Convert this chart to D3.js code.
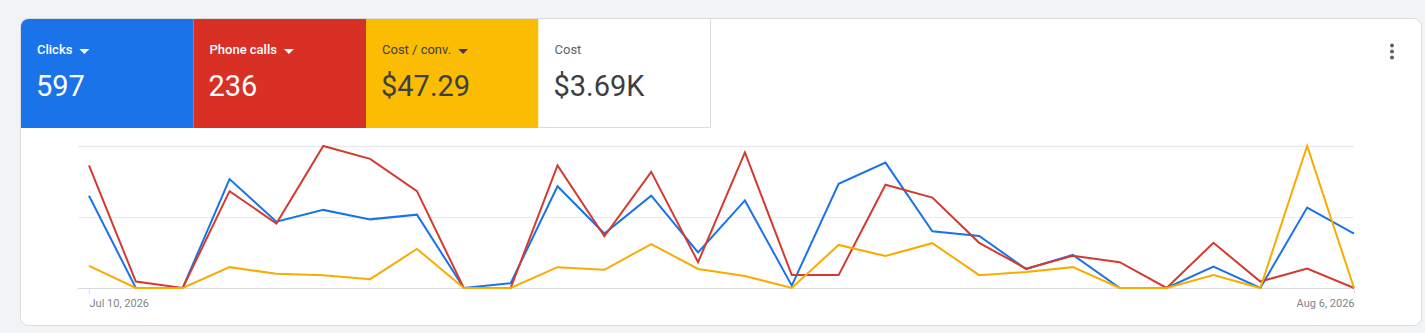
<!DOCTYPE html>
<html>
<head>
<meta charset="utf-8">
<script src="https://cdn.jsdelivr.net/npm/d3@7"></script>
<style>
  html, body { margin: 0; padding: 0; background: #f1f3f4; }
  svg { display: block; font-family: Roboto, "Noto Sans", sans-serif; }
</style>
</head>
<body>
<svg id="chart" width="1425" height="333"></svg>
<script>
// ---- data ----
const startDate = "2026-07-10";
const endDate = "2026-08-06";
const clicks = [39, 0, 0, 46, 28, 33, 29, 31, 0, 2, 43, 23, 39, 15, 37, 1, 44, 53, 24, 22, 8, 14, 0, 0, 9, 0, 34, 23];
const phoneCalls = [19, 1, 0, 15, 10, 22, 20, 15, 0, 0, 19, 8, 18, 4, 21, 2, 2, 16, 14, 7, 3, 5, 4, 0, 7, 1, 3, 0];
const costPerConv = [50, 0, 0, 47, 32, 29, 20, 88, 0, 0, 47, 41, 99, 43, 27, 0, 97, 72, 101, 29, 36, 47, 0, 0, 29, 0, 320, 0];
const axisMax = { clicks: 60, phoneCalls: 22, costPerConv: 320 };
const gridValues = [0, 30, 60]; // on the clicks scale
const scorecardLabels = ["Clicks", "Phone calls", "Cost / conv.", "Cost"];
const scorecardValues = ["597", "236", "$47.29", "$3.69K"];
const scorecardDropdown = [true, true, true, false];

const parse = d3.timeParse("%Y-%m-%d");
const dates = d3.timeDay.range(parse(startDate), d3.timeDay.offset(parse(endDate), 1));

const svg = d3.select("#chart");

// card
svg.append("rect").attr("x", 20.5).attr("y", 18.5).attr("width", 1401).attr("height", 307)
  .attr("rx", 8).attr("fill", "#fff").attr("stroke", "#dadce0");

// scorecards
const tileColors = ["#1a73e8", "#d93025", "#fbbc04", "#ffffff"];
const labelColors = ["#ffffff", "#ffffff", "#3c4043", "#5f6368"];
const valueColors = ["#ffffff", "#ffffff", "#3c4043", "#3c4043"];
const tileX = d3.scaleBand().domain(d3.range(4)).range([21, 711]);
const clipDefs = svg.append("defs");
clipDefs.append("clipPath").attr("id", "cardClip")
  .append("rect").attr("x", 21).attr("y", 19).attr("width", 1400).attr("height", 306).attr("rx", 7.5);

const tiles = svg.append("g").attr("clip-path", "url(#cardClip)");
scorecardLabels.forEach((lab, i) => {
  const x = tileX(i), w = tileX.bandwidth();
  const g = tiles.append("g");
  g.append("rect").attr("x", x).attr("y", 19).attr("width", w).attr("height", 109).attr("fill", tileColors[i]);
  if (i === 3) {
    g.append("path").attr("d", `M${x + w - 0.5},19 V127.5 H${x}`).attr("fill", "none").attr("stroke", "#dadce0");
  }
  const t = g.append("text").attr("x", x + 16).attr("y", 54).attr("font-size", 13)
    .attr("font-weight", i < 2 ? 500 : 400).attr("fill", labelColors[i]).text(lab);
  if (scorecardDropdown[i]) {
    const tw = t.node().getComputedTextLength();
    const ax = x + 16 + tw + 7;
    g.append("path").attr("d", `M${ax},49 L${ax + 10},49 L${ax + 5},54 Z`).attr("fill", labelColors[i]);
  }
  g.append("text").attr("x", x + 15).attr("y", 96).attr("font-size", 29)
    .attr("fill", valueColors[i]).text(scorecardValues[i]);
});

// kebab menu
[45.5, 51.5, 57.5].forEach(cy => {
  svg.append("circle").attr("cx", 1392).attr("cy", cy).attr("r", 2).attr("fill", "#5f6368");
});

// chart scales
const x = d3.scaleTime().domain([dates[0], dates[dates.length - 1]]).range([89, 1354]);
const yTop = 146, yBottom = 288;
const yClicks = d3.scaleLinear().domain([0, axisMax.clicks]).range([yBottom, yTop]);
const yCalls = d3.scaleLinear().domain([0, axisMax.phoneCalls]).range([yBottom, yTop]);
const yCost = d3.scaleLinear().domain([0, axisMax.costPerConv]).range([yBottom, yTop]);

// gridlines
const grid = svg.append("g");
gridValues.forEach(v => {
  grid.append("line").attr("x1", 78).attr("x2", 1354)
    .attr("y1", Math.round(yClicks(v)) + 0.5).attr("y2", Math.round(yClicks(v)) + 0.5)
    .attr("stroke", v === 0 ? "#dadce0" : "#e8eaed").attr("stroke-width", v === axisMax.clicks ? 1.5 : 1);
});

// x axis
const axis = d3.axisBottom(x).tickValues([dates[0], dates[dates.length - 1]])
  .tickFormat(d3.timeFormat("%b %-d, %Y")).tickSize(5).tickPadding(6);
const ax = svg.append("g").attr("transform", `translate(0,${yBottom + 0.5})`).call(axis);
ax.select(".domain").remove();
ax.selectAll(".tick line").attr("stroke", "#dadce0");
ax.selectAll(".tick text").attr("fill", "#80868b").attr("font-size", 11)
  .attr("font-family", "Roboto, sans-serif")
  .attr("text-anchor", (d, i) => i === 0 ? "start" : "end");

// lines
const series = [
  { values: clicks, y: yClicks, color: "#1a73e8" },
  { values: phoneCalls, y: yCalls, color: "#d33b30" },
  { values: costPerConv, y: yCost, color: "#f9ab00" }
];
series.forEach(s => {
  const line = d3.line().x((d, i) => x(dates[i])).y(d => s.y(d));
  svg.append("path").datum(s.values).attr("d", line)
    .attr("fill", "none").attr("stroke", s.color).attr("stroke-width", 2)
    .attr("stroke-linejoin", "miter");
});
</script>
</body>
</html>
